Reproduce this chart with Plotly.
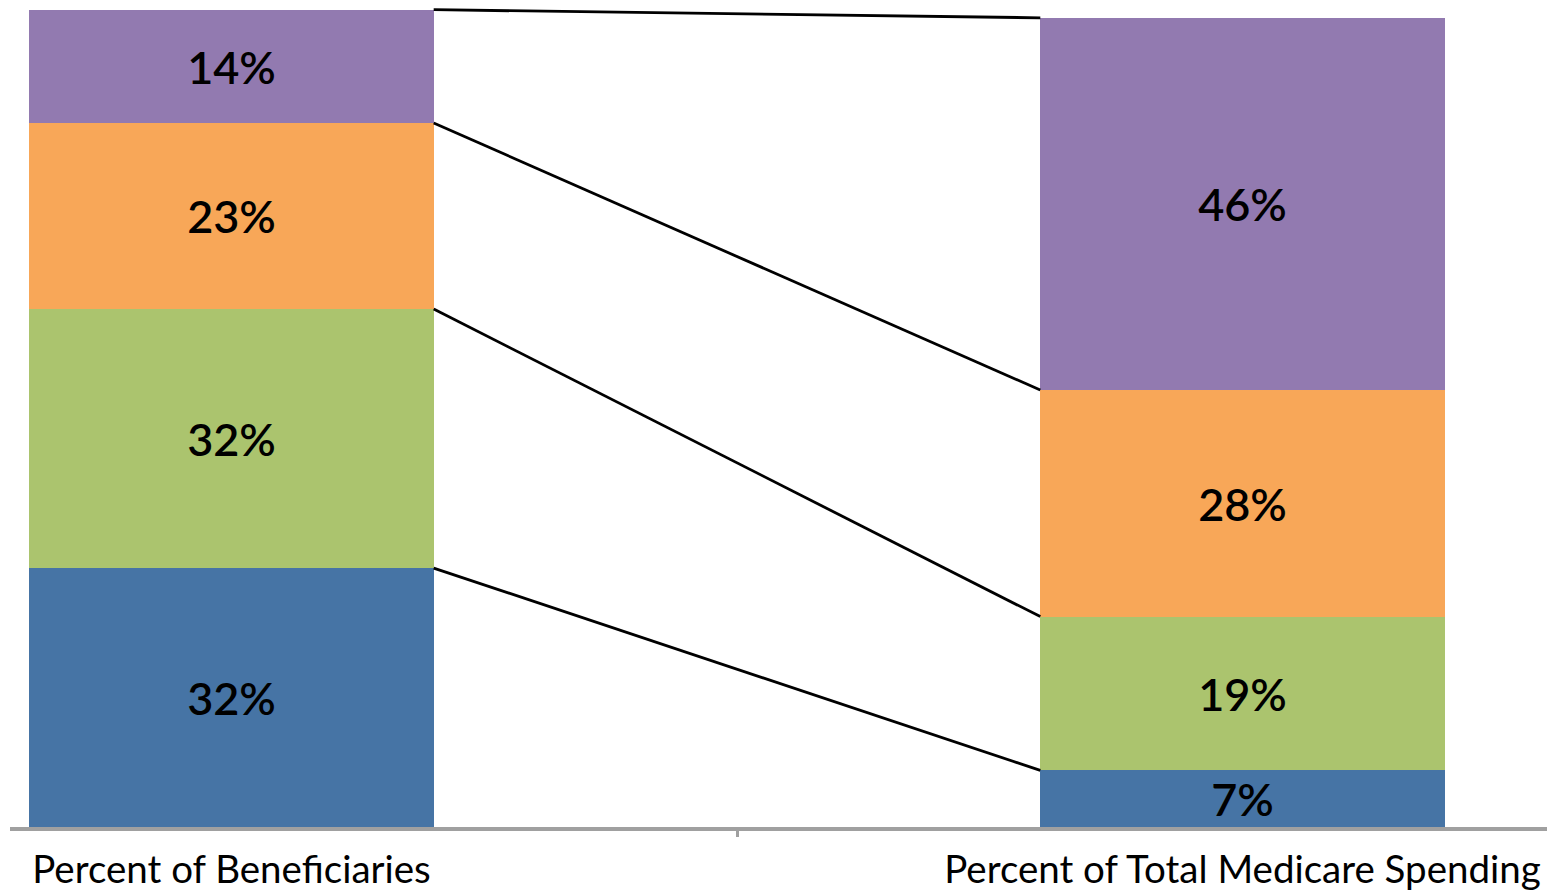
import plotly.graph_objects as go

categories = ["Percent of Beneficiaries", "Percent of Total Medicare Spending"]
series_names = ["Blue", "Green", "Orange", "Purple"]
values = {
    "Blue": [32, 7],
    "Green": [32, 19],
    "Orange": [23, 28],
    "Purple": [14, 46],
}
colors = {
    "Blue": "#4674A5",
    "Green": "#ABC46E",
    "Orange": "#F8A758",
    "Purple": "#927AB0",
}

xpos = [0, 1]
bar_width = 0.4
FONT = "Lato"

fig = go.Figure()
for name in series_names:
    vals = values[name]
    fig.add_trace(go.Bar(
        x=xpos, y=vals, width=bar_width,
        marker=dict(color=colors[name], line=dict(width=0)),
        text=[f"{v}%" for v in vals],
        textposition="inside", insidetextanchor="middle",
        constraintext="none",
        insidetextfont=dict(family=FONT, size=45, color="black", weight=600),
        name=name, showlegend=False, hoverinfo="skip",
    ))

# series connector lines between cumulative tops
cum_left, cum_right = 0, 0
for name in series_names:
    cum_left += values[name][0]
    cum_right += values[name][1]
    fig.add_trace(go.Scatter(
        x=[xpos[0] + bar_width / 2, xpos[1] - bar_width / 2],
        y=[cum_left, cum_right], mode="lines",
        line=dict(color="black", width=2.8),
        showlegend=False, hoverinfo="skip",
    ))

fig.update_layout(
    barmode="stack", bargap=0,
    width=1547, height=890,
    margin=dict(l=10, r=0, t=0, b=63),
    paper_bgcolor="white", plot_bgcolor="white",
    xaxis=dict(
        range=[-0.2191, 1.3012],
        tickvals=xpos, ticktext=categories, ticks="",
        tickfont=dict(family=FONT, size=38.5, color="black"),
        ticklabelstandoff=6,
        showline=True, linecolor="#A0A0A0", linewidth=4,
        showgrid=False, zeroline=False,
        minor=dict(tickvals=[0.5], ticks="outside", ticklen=6, tickwidth=3, tickcolor="#A0A0A0", showgrid=False),
    ),
    yaxis=dict(range=[0, 102.2], visible=False, showgrid=False, zeroline=False),
)

fig.write_html("out.html")
